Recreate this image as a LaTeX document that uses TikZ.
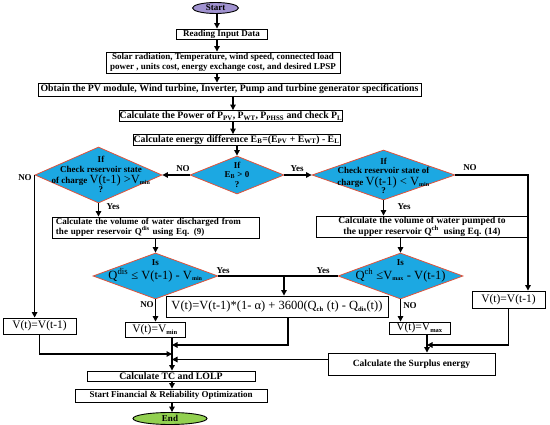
\documentclass[tikz,border=0pt]{standalone}
\usepackage{fontspec}
\setmainfont{Liberation Serif}
\usetikzlibrary{shapes.geometric,arrows.meta}
\definecolor{diablue}{RGB}{28,168,226}
\definecolor{diared}{RGB}{224,82,58}
\definecolor{startfill}{RGB}{160,146,208}
\definecolor{endfill}{RGB}{146,208,80}
\newcommand\fbt{\fontsize{9}{10}\selectfont\bfseries}
\newcommand\fbtl{\fontsize{9.8}{10}\selectfont\bfseries}
\newcommand\fdt{\fontsize{9}{9.5}\selectfont\bfseries}
\newcommand\freg{\fontsize{11.5}{12}\selectfont\mdseries}
\newcommand\fdreg{\fontsize{12.5}{13}\selectfont\mdseries}
\newcommand\fform{\fontsize{12.5}{13}\selectfont\mdseries}
\newcommand\tinysub[1]{\textsubscript{\fontsize{6.5}{7}\selectfont\bfseries #1}}
\begin{document}
\begin{tikzpicture}[x=1pt,y=-1pt,
 bx/.style={draw,line width=0.9pt,fill=white,inner sep=0pt,align=center,font=\fbt},
 dia/.style={diamond,draw=diared,fill=diablue,line width=0.8pt,inner sep=0pt},
 term/.style={ellipse,draw,line width=0.9pt,inner sep=0pt,font=\fbt},
 arr/.style={line width=1.2pt,-{Triangle[length=5.5pt,width=5.5pt]}},
 ln/.style={line width=1.2pt},
 lab/.style={font=\fbt,inner sep=0pt},
 dtxt/.style={font=\fdt,align=center,inner sep=0pt}]
\useasboundingbox (0,0) rectangle (550,425);
% top chain
\node[term,fill=startfill,minimum width=46pt,minimum height=11pt] (start) at (215.5,8) {Start};
\node[bx,minimum width=91pt,minimum height=10pt] (read) at (221.5,34) {Reading Input Data};
\node[bx,minimum width=234pt,minimum height=21pt] (inp) at (223,62.5) {Solar radiation, Temperature, wind speed, connected load\\power , units cost, energy exchange cost, and desired LPSP};
\node[bx,font=\fbtl,minimum width=383pt,minimum height=13pt] (spec) at (229.5,89.5) {Obtain the PV module, Wind turbine, Inverter, Pump and turbine generator specifications};
\node[bx,font=\fbtl,minimum width=220pt,minimum height=11pt] (pow) at (231,116) {Calculate the Power of P\textsubscript{PV}, P\textsubscript{WT}, P\textsubscript{PHSS} and check P\textsubscript{L}};
\node[bx,font=\fbtl,minimum width=207pt,minimum height=11pt] (ediff) at (236.5,140) {Calculate energy difference E\textsubscript{B}=(E\textsubscript{PV} + E\textsubscript{WT}) - E\textsubscript{L}};
\coordinate (ax1) at (217,0);
\coordinate (ax2) at (233,0);
\draw[arr] (start.south -| ax1) -- (ax1 |- read.north);
\draw[arr] (read.south -| ax1) -- (ax1 |- inp.north);
\draw[arr] (inp.south -| ax1) -- (ax1 |- spec.north);
\draw[arr] (spec.south -| ax2) -- (ax2 |- pow.north);
\draw[arr] (pow.south -| ax2) -- (ax2 |- ediff.north);
% diamonds
\node[dia,minimum width=94pt,minimum height=38pt] (C) at (237,175) {};
\node[dtxt] (Ct) at (237,174.5) {If\\E\textsubscript{B} > 0\\?};
\node[dia,minimum width=127pt,minimum height=56pt] (L) at (98.5,175) {};
\node[dtxt] (Lt) at (101,174.5) {If\\Check reservoir state\\[2pt]of charge {\fdreg V(t-1) >V}\textsubscript{min}\\[-1pt]?};
\node[dia,minimum width=143pt,minimum height=50pt] (R) at (383.5,175) {};
\node[dtxt] (Rt) at (383.5,176) {If\\Check reservoir state of\\[2pt]charge {\fdreg V(t-1) < V}\textsubscript{min}\\[-1pt]?};
\draw[arr] (ediff.south -| C.north) -- (C.north);
\draw[arr] (C.west) -- (L.east);
\node[lab] (noC) at (183,169) {NO};
\draw[arr] (C.east) -- (R.west);
\node[lab] (yesC) at (297,169) {Yes};
% volume boxes
\node[bx,minimum width=207pt,minimum height=21pt,text width=199pt,align=left] (D) at (155.5,227.5) {Calculate the volume of water discharged from\\the upper reservoir Q\textsuperscript{dis} using Eq. (9)};
\node[bx,font=\fontsize{9.5}{10.5}\selectfont\bfseries,minimum width=212pt,minimum height=21pt] (P) at (422,226.5) {Calculate the volume of water pumped to\\the upper reservoir Q\textsuperscript{ch}~ using Eq. (14)};
\draw[arr] (L.south) -- (L.south |- D.north);
\node[lab] (yesL) at (113,207) {Yes};
\draw[arr] (R.south) -- (R.south |- P.north);
\node[lab] (yesR) at (404,207) {Yes};
% second diamonds
\node[dia,minimum width=125pt,minimum height=46pt] (QD) at (155.5,276) {};
\node[dtxt] (QDt) at (155.5,270.5) {Is\\[2.5pt]{\fdreg Q\textsuperscript{dis} ≤ V(t-1) - V}\textsubscript{min}};
\node[dia,minimum width=125pt,minimum height=46pt] (QC) at (400.5,276) {};
\node[dtxt] (QCt) at (400.5,270.5) {Is\\[2.5pt]{\fdreg Q\textsuperscript{ch} ≤V}\textsubscript{max}{\fdreg\ - V(t-1)}};
\draw[arr] (D.south) -- (D.south |- QD.north);
\draw[arr] (P.south -| QC.north) -- (QC.north);
% formula
\node[bx,font=\fform,minimum width=222pt,minimum height=21pt] (F) at (277,306.5) {V(t)=V(t-1)*(1- α) + 3600(Q\tinysub{ch} (t) - Q\tinysub{dis}(t))};
\coordinate (ax3) at (284,0);
\draw[ln] (QD.east) -- (QC.west);
\draw[arr] (QD.east -| ax3) -- (ax3 |- F.north);
\node[lab] (yesQD) at (223,271) {Yes};
\node[lab] (yesQC) at (323,271) {Yes};
% result boxes
\node[bx,font=\freg,minimum width=60pt,minimum height=15pt] (vmin) at (155,329.5) {V(t)=V\tinysub{min}};
\node[bx,font=\freg,minimum width=61pt,minimum height=12pt] (vmax) at (419.5,328) {V(t)=V\tinysub{max}};
\node[bx,font=\freg,minimum width=73pt,minimum height=16pt] (VL) at (39.5,326) {V(t)=V(t-1)};
\node[bx,font=\freg,minimum width=73pt,minimum height=17pt] (VR) at (508.5,299.5) {V(t)=V(t-1)};
\draw[arr] (QD.south) -- (QD.south |- vmin.north);
\node[lab] (noQD) at (147,305) {NO};
\draw[arr] (QC.south) -- (QC.south |- vmax.north);
\node[lab] (noQC) at (410,306) {NO};
\draw[arr] (L.west) -- (L.west |- VL.north);
\node[lab] (noL) at (25,178) {NO};
\coordinate (xr) at (528,0);
\draw[arr] (R.east) -| (xr |- VR.north);
\node[lab] (noR) at (470,168) {NO};
% bottom
\node[bx,font=\fontsize{9.5}{10}\selectfont\bfseries,minimum width=167pt,minimum height=22pt] (S) at (411.5,364) {Calculate the Surplus energy};
\node[bx,font=\fbtl,minimum width=168pt,minimum height=10pt] (TC) at (171,376) {Calculate TC and LOLP};
\node[bx,minimum width=192pt,minimum height=13pt] (fin) at (171,395.5) {Start Financial \& Reliability Optimization};
\node[term,fill=endfill,minimum width=74pt,minimum height=12pt] (end) at (170,418.5) {End};
\coordinate (tx) at (172,0);
\coordinate (fx) at (288,0);
\coordinate (j1) at (172,345);
\coordinate (j2) at (172,354);
\coordinate (j3) at (172,359.5);
\coordinate (vx) at (427,0);
\coordinate (j4) at (427,345);
\draw[arr] (vmin.south -| tx) -- (tx |- TC.north);
\draw[arr] (F.south -| fx) |- (j1);
\draw[arr] (VL.south) |- (j2);
\draw[arr] (S.west |- j3) -- (j3);
\draw[arr] (vmax.south -| vx) -- (vx |- S.north);
\draw[arr] (VR.south) |- (j4);
\draw[arr] (TC.south -| tx) -- (tx |- fin.north);
\draw[arr] (fin.south -| tx) -- (tx |- end.north);
\end{tikzpicture}
\end{document}
